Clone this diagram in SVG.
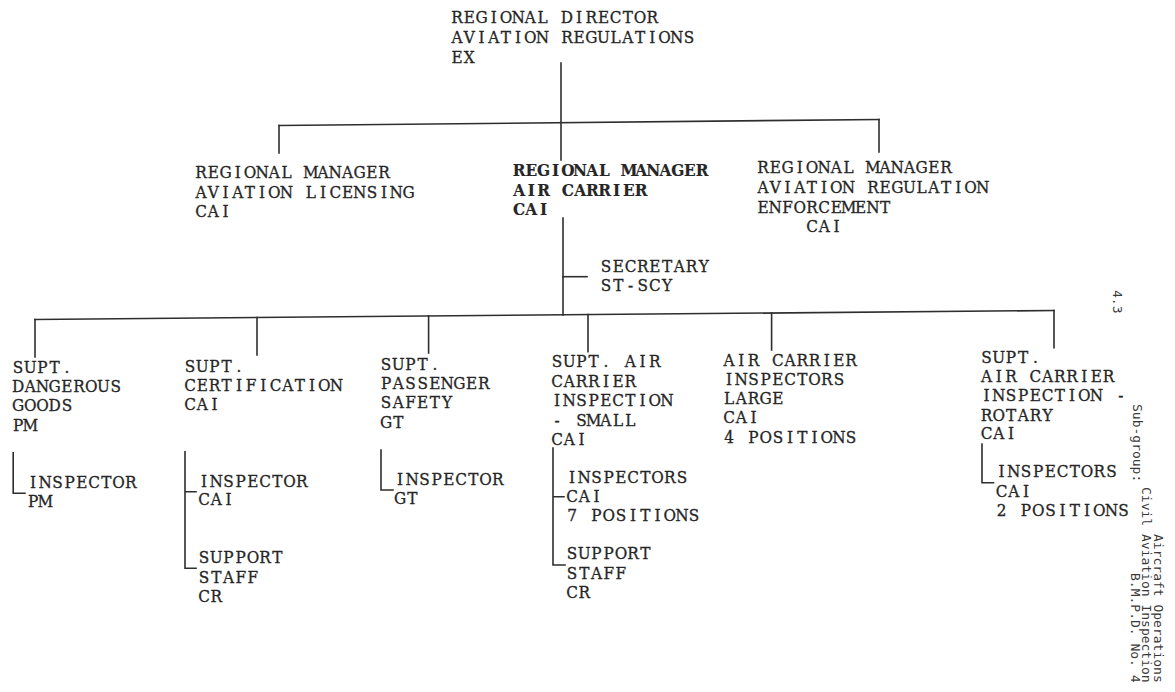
<svg xmlns="http://www.w3.org/2000/svg" width="1175" height="692" viewBox="0 0 1175 692">
<style>
.t{font-family:"DejaVu Serif Condensed","DejaVu Serif","Liberation Serif",serif;font-stretch:condensed;font-size:17px;text-anchor:middle;fill:#262626;stroke:#262626;stroke-width:0.3px}
.b{font-weight:bold;stroke-width:0.2px}
.m{font-family:"DejaVu Sans Mono","Liberation Mono",monospace;font-size:13px;fill:#3a3a3a}
.c{fill:none;stroke:#2e2e2e;stroke-width:1.6;stroke-linecap:square}
</style>
<rect width="1175" height="692" fill="#ffffff"/>
<g id="connectors">
<path class="c" d="M561,63 V160"/>
<path class="c" d="M279,125.5 L879,119.5"/>
<path class="c" d="M279,125.5 V153"/>
<path class="c" d="M879,119.5 V152"/>
<path class="c" d="M563,218 V315"/>
<path class="c" d="M563,276.7 H587"/>
<path class="c" d="M35,319.5 L1054,310.5"/>
<path class="c" d="M35,319.5 V357"/>
<path class="c" d="M257,317.5 V355"/>
<path class="c" d="M428.6,316 V353"/>
<path class="c" d="M588,314.5 V351.7"/>
<path class="c" d="M771.6,313 V350"/>
<path class="c" d="M1054,310.5 V347.7"/>
<path class="c" d="M13.2,452.7 V493.3 H25"/>
<path class="c" d="M185,451.7 V568.3 H196 M185,491.7 H196"/>
<path class="c" d="M381,450 V490 H393"/>
<path class="c" d="M553,448 V565 H565 M553,496.7 H564"/>
<path class="c" d="M982,444 V482.7 H993.5"/>
</g>
<g id="n-director">
<text class="t" x="457.1 469.3 481.5 493.7 505.9 518.1 530.3 542.5 554.7 566.9 579.1 591.3 603.5 615.7 627.9 640.1 652.3 664.5 676.7 688.9" y="22.5">REGIONAL DIRECTOR</text>
<text class="t" x="457.1 469.3 481.5 493.7 505.9 518.1 530.3 542.5 554.7 566.9 579.1 591.3 603.5 615.7 627.9 640.1 652.3 664.5 676.7 688.9" y="42.5">AVIATION REGULATIONS</text>
<text class="t" x="457.1 469.3" y="62.5">EX</text>
</g>
<g id="n-mgr-licensing">
<text class="t" x="201.1 213.3 225.5 237.7 249.9 262.1 274.3 286.5 298.7 310.9 323.1 335.3 347.5 359.7 371.9 384.1 396.3 408.5" y="178">REGIONAL MANAGER</text>
<text class="t" x="201.1 213.3 225.5 237.7 249.9 262.1 274.3 286.5 298.7 310.9 323.1 335.3 347.5 359.7 371.9 384.1 396.3 408.5" y="197.5">AVIATION LICENSING</text>
<text class="t" x="201.1 213.3 225.5" y="217">CAI</text>
</g>
<g id="n-mgr-aircarrier">
<text class="t b" x="519.1 531.3 543.5 555.7 567.9 580.1 592.3 604.5 616.7 628.9 641.1 653.3 665.5 677.7 689.9 702.1" y="175.5">REGIONAL MANAGER</text>
<text class="t b" x="519.1 531.3 543.5 555.7 567.9 580.1 592.3 604.5 616.7 628.9 641.1" y="196">AIR CARRIER</text>
<text class="t b" x="519.1 531.3 543.5" y="215">CAI</text>
</g>
<g id="n-mgr-enforcement">
<text class="t" x="763.1 775.3 787.5 799.7 811.9 824.1 836.3 848.5 860.7 872.9 885.1 897.3 909.5 921.7 933.9 946.1 958.3 970.5 982.7" y="173">REGIONAL MANAGER</text>
<text class="t" x="763.1 775.3 787.5 799.7 811.9 824.1 836.3 848.5 860.7 872.9 885.1 897.3 909.5 921.7 933.9 946.1 958.3 970.5 982.7" y="193">AVIATION REGULATION</text>
<text class="t" x="763.1 775.3 787.5 799.7 811.9 824.1 836.3 848.5 860.7 872.9 885.1" y="213">ENFORCEMENT</text>
<text class="t" x="812.1 824.3 836.5" y="232">CAI</text>
</g>
<g id="n-secretary">
<text class="t" x="606.1 618.3 630.5 642.7 654.9 667.1 679.3 691.5 703.7" y="271.7">SECRETARY</text>
<text class="t" x="606.1 618.3 630.5 642.7 654.9 667.1" y="290.7">ST-SCY</text>
</g>
<g id="n-dangerous-goods">
<text class="t" x="18.1 30.3 42.5 54.7 66.9" y="373.3">SUPT.</text>
<text class="t" x="18.1 30.3 42.5 54.7 66.9 79.1 91.3 103.5 115.7" y="392">DANGEROUS</text>
<text class="t" x="18.1 30.3 42.5 54.7 66.9" y="411">GOODS</text>
<text class="t" x="18.1 30.3" y="430.5">PM</text>
</g>
<g id="n-insp-pm">
<text class="t" x="33.1 45.3 57.5 69.7 81.9 94.1 106.3 118.5 130.7" y="488.3">INSPECTOR</text>
<text class="t" x="33.1 45.3" y="507.3">PM</text>
</g>
<g id="n-certification">
<text class="t" x="190.1 202.3 214.5 226.7 238.9" y="372">SUPT.</text>
<text class="t" x="190.1 202.3 214.5 226.7 238.9 251.1 263.3 275.5 287.7 299.9 312.1 324.3 336.5" y="390.7">CERTIFICATION</text>
<text class="t" x="190.1 202.3 214.5" y="410">CAI</text>
</g>
<g id="n-insp-cai">
<text class="t" x="204.1 216.3 228.5 240.7 252.9 265.1 277.3 289.5 301.7" y="486.7">INSPECTOR</text>
<text class="t" x="204.1 216.3 228.5" y="505">CAI</text>
</g>
<g id="n-support-cert">
<text class="t" x="204.1 216.3 228.5 240.7 252.9 265.1 277.3" y="563.3">SUPPORT</text>
<text class="t" x="204.1 216.3 228.5 240.7 252.9" y="582.7">STAFF</text>
<text class="t" x="204.1 216.3" y="601.7">CR</text>
</g>
<g id="n-passenger-safety">
<text class="t" x="386.1 398.3 410.5 422.7 434.9" y="370">SUPT.</text>
<text class="t" x="386.1 398.3 410.5 422.7 434.9 447.1 459.3 471.5 483.7" y="389">PASSENGER</text>
<text class="t" x="386.1 398.3 410.5 422.7 434.9 447.1" y="408">SAFETY</text>
<text class="t" x="386.1 398.3" y="427.7">GT</text>
</g>
<g id="n-insp-gt">
<text class="t" x="400.1 412.3 424.5 436.7 448.9 461.1 473.3 485.5 497.7" y="485">INSPECTOR</text>
<text class="t" x="400.1 412.3" y="504">GT</text>
</g>
<g id="n-supt-small">
<text class="t" x="557.1 569.3 581.5 593.7 605.9 618.1 630.3 642.5 654.7" y="367">SUPT. AIR</text>
<text class="t" x="557.1 569.3 581.5 593.7 605.9 618.1 630.3" y="386.5">CARRIER</text>
<text class="t" x="557.1 569.3 581.5 593.7 605.9 618.1 630.3 642.5 654.7 666.9" y="406">INSPECTION</text>
<text class="t" x="557.1 569.3 581.5 593.7 605.9 618.1 630.3" y="425.5">- SMALL</text>
<text class="t" x="557.1 569.3 581.5" y="445">CAI</text>
</g>
<g id="n-insp-small">
<text class="t" x="572.1 584.3 596.5 608.7 620.9 633.1 645.3 657.5 669.7 681.9" y="482.7">INSPECTORS</text>
<text class="t" x="572.1 584.3 596.5" y="501.7">CAI</text>
<text class="t" x="572.1 584.3 596.5 608.7 620.9 633.1 645.3 657.5 669.7 681.9 694.1" y="521">7 POSITIONS</text>
</g>
<g id="n-support-small">
<text class="t" x="572.1 584.3 596.5 608.7 620.9 633.1 645.3" y="559">SUPPORT</text>
<text class="t" x="572.1 584.3 596.5 608.7 620.9" y="579">STAFF</text>
<text class="t" x="572.1 584.3" y="598.3">CR</text>
</g>
<g id="n-large">
<text class="t" x="729.1 741.3 753.5 765.7 777.9 790.1 802.3 814.5 826.7 838.9 851.1" y="365.7">AIR CARRIER</text>
<text class="t" x="729.1 741.3 753.5 765.7 777.9 790.1 802.3 814.5 826.7 838.9" y="385">INSPECTORS</text>
<text class="t" x="729.1 741.3 753.5 765.7 777.9" y="404.3">LARGE</text>
<text class="t" x="729.1 741.3 753.5" y="423.3">CAI</text>
<text class="t" x="729.1 741.3 753.5 765.7 777.9 790.1 802.3 814.5 826.7 838.9 851.1" y="442.7">4 POSITIONS</text>
</g>
<g id="n-rotary">
<text class="t" x="986.6 998.8 1011 1023.2 1035.4" y="363">SUPT.</text>
<text class="t" x="986.6 998.8 1011 1023.2 1035.4 1047.6 1059.8 1072 1084.2 1096.4 1108.6" y="381.7">AIR CARRIER</text>
<text class="t" x="986.6 998.8 1011 1023.2 1035.4 1047.6 1059.8 1072 1084.2 1096.4 1108.6 1120.8" y="400.7">INSPECTION -</text>
<text class="t" x="986.6 998.8 1011 1023.2 1035.4 1047.6" y="420.7">ROTARY</text>
<text class="t" x="986.6 998.8 1011" y="439.3">CAI</text>
</g>
<g id="n-insp-rotary">
<text class="t" x="1001.6 1013.8 1026 1038.2 1050.4 1062.6 1074.8 1087 1099.2 1111.4" y="477.3">INSPECTORS</text>
<text class="t" x="1001.6 1013.8 1026" y="496.7">CAI</text>
<text class="t" x="1001.6 1013.8 1026 1038.2 1050.4 1062.6 1074.8 1087 1099.2 1111.4 1123.6" y="516">2 POSITIONS</text>
</g>
<g id="margin">
<text class="m" transform="translate(1112.5,290) rotate(90)">4.3</text>
<text class="m" transform="translate(1154,534) rotate(90)">Aircraft Operations</text>
<text class="m" transform="translate(1142,487) rotate(90)">Civil Aviation Inspection</text>
<text class="m" transform="translate(1133,404) rotate(90)">Sub-group:</text>
<text class="m" transform="translate(1131,573) rotate(90)">B.M.P.D. No. 4</text>
</g>
</svg>
